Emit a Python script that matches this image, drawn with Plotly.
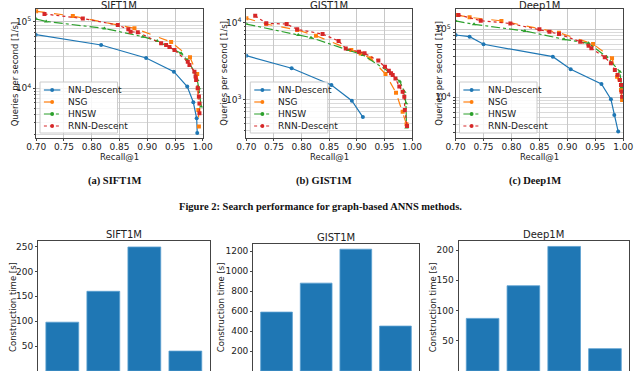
import plotly.graph_objects as go

W, H = 640, 371

methods = ["NN-Descent", "NSG", "HNSW", "RNN-Descent"]
colors = ["#1f77b4", "#ff7f0e", "#2ca02c", "#d62728"]
dashes = ["solid", "dash", "dashdot", "dot"]
symbols = ["circle", "square", "triangle-up", "square"]

# SIFT1M search performance (recall@1, queries per second)
sift_nnd_recall = [0.699, 0.817, 0.898, 0.948, 0.972, 0.983, 0.989, 0.990]
sift_nnd_qps = [64400, 45000, 28600, 17800, 10600, 6150, 3530, 2120]
sift_nsg_recall = [0.700, 0.766, 0.877, 0.943, 0.977, 0.990, 0.991, 0.992, 0.993]
sift_nsg_qps = [145000, 123000, 80400, 49900, 29300, 16400, 10000, 4700, 2640]
sift_hnsw_recall = [0.700, 0.718, 0.823, 0.892, 0.918, 0.961, 0.972, 0.985, 0.990, 0.993, 0.997]
sift_hnsw_qps = [111000, 102000, 80000, 60000, 51700, 33700, 26700, 17800, 13300, 10000, 5300]
sift_rnn_recall = [0.715, 0.784, 0.847, 0.866, 0.870, 0.883, 0.925, 0.934, 0.940, 0.949,
                   0.973, 0.976, 0.985, 0.987, 0.988, 0.991, 0.993, 0.994, 0.994]
sift_rnn_qps = [132000, 113000, 90000, 77400, 71400, 70000, 47600, 45000, 42000, 37800,
                25200, 22500, 17800, 15000, 13300, 10000, 7500, 5900, 4200]

# GIST1M search performance
gist_nnd_recall = [0.700, 0.782, 0.854, 0.891, 0.911]
gist_nnd_qps = [3740, 2570, 1560, 980, 600]
gist_nsg_recall = [0.700, 0.736, 0.792, 0.826, 0.890, 0.907, 0.925, 0.952, 0.971, 0.983, 0.990]
gist_nsg_qps = [11400, 9600, 8040, 6800, 4430, 4000, 3460, 2170, 1240, 706, 484]
gist_hnsw_recall = [0.700, 0.794, 0.817, 0.884, 0.911, 0.958, 0.978, 0.986, 0.989, 0.990]
gist_hnsw_qps = [9600, 6930, 6400, 4430, 3820, 2320, 1730, 1280, 905, 439]
gist_rnn_recall = [0.716, 0.736, 0.773, 0.792, 0.838, 0.867, 0.880, 0.904, 0.914, 0.939,
                   0.951, 0.958, 0.962, 0.965, 0.970, 0.977, 0.983, 0.986, 0.987, 0.991]
gist_rnn_qps = [12300, 9800, 9600, 8200, 7130, 5800, 4650, 4220, 4010, 3230,
                2700, 2390, 2210, 2100, 1900, 1490, 1280, 1100, 740, 460]

# Deep1M search performance
deep_nnd_recall = [0.700, 0.725, 0.750, 0.874, 0.906, 0.961, 0.978, 0.984, 0.991]
deep_nnd_qps = [82500, 78000, 60200, 39600, 25800, 15700, 9350, 5500, 3130]
deep_nsg_recall = [0.700, 0.725, 0.782, 0.885, 0.946, 0.980, 0.989, 0.996, 0.998]
deep_nsg_qps = [163000, 150000, 133000, 89300, 60800, 37500, 20100, 12800, 9130]
deep_hnsw_recall = [0.700, 0.733, 0.824, 0.894, 0.938, 0.970, 0.994, 0.997]
deep_hnsw_qps = [133000, 118500, 94500, 71300, 62200, 39600, 23800, 14000]
deep_rnn_recall = [0.705, 0.745, 0.798, 0.850, 0.868, 0.885, 0.923, 0.938, 0.943, 0.967,
                   0.978, 0.985, 0.990, 0.994, 0.996, 0.997, 0.998]
deep_rnn_qps = [163000, 134000, 122000, 100000, 92400, 85400, 65800, 57500, 52500, 38700,
                31600, 25300, 21300, 18000, 15200, 12100, 10200]

# construction time [s]
sift_build = [98, 160, 249, 40]
gist_build = [590, 880, 1220, 450]
deep_build = [87, 141, 206, 37]

datasets = ["SIFT1M", "GIST1M", "Deep1M"]
captions = ["(a) SIFT1M", "(b) GIST1M", "(c) Deep1M"]
search = [
    [(sift_nnd_recall, sift_nnd_qps), (sift_nsg_recall, sift_nsg_qps),
     (sift_hnsw_recall, sift_hnsw_qps), (sift_rnn_recall, sift_rnn_qps)],
    [(gist_nnd_recall, gist_nnd_qps), (gist_nsg_recall, gist_nsg_qps),
     (gist_hnsw_recall, gist_hnsw_qps), (gist_rnn_recall, gist_rnn_qps)],
    [(deep_nnd_recall, deep_nnd_qps), (deep_nsg_recall, deep_nsg_qps),
     (deep_hnsw_recall, deep_hnsw_qps), (deep_rnn_recall, deep_rnn_qps)],
]
builds = [sift_build, gist_build, deep_build]


def px(x):
    return x / W


def py(y):
    return 1 - y / H


FONT = "DejaVu Sans"
SERIF = "Liberation Serif"

# pixel boxes of the panels
top_boxes = [(27, 199), (244, 415), (460, 633)]
top_y = (9, 138)
log_ranges = [(3.250, 5.196), (2.508, 4.177), (3.401, 5.299)]
ytitle_x = [5, 220, 442]

bar_boxes = [(29, 206), (251, 422), (463, 639)]
bar_tops = [241, 244, 241]
bar_ranges = [(0, 261), (0, 1272), (0, 215)]
bar_dticks = [50, 200, 50]
bar_ytitle_x = [3, 218, 437]

fig = go.Figure()
layout = {}
annotations = []
shapes = []

decades = [10 ** e for e in range(2, 7)]
decade_text = [f"10<sup>{e}</sup>" for e in range(2, 7)]
minor_vals = [k * 10 ** e for e in range(2, 7) for k in range(2, 10)]

axis_common = dict(showline=True, mirror=True, linecolor="#444", linewidth=1,
                   ticks="outside", ticklen=2, tickcolor="#444",
                   tickfont=dict(family=FONT, size=9, color="#222"), zeroline=False)


def label(text, x, y, size=8.5, family=FONT, angle=0, xanchor="center", color="#222"):
    annotations.append(dict(text=text, x=px(x), y=py(y), xref="paper", yref="paper",
                            xanchor=xanchor, yanchor="middle", textangle=angle,
                            showarrow=False, font=dict(family=family, size=size, color=color)))


for i in range(3):
    n = i + 1
    xa = "xaxis" if n == 1 else f"xaxis{n}"
    ya = "yaxis" if n == 1 else f"yaxis{n}"
    xr = "x" if n == 1 else f"x{n}"
    yr = "y" if n == 1 else f"y{n}"
    x0, x1 = top_boxes[i]
    layout[xa] = dict(domain=[px(x0), px(x1)], anchor=yr, range=[0.70, 1.00],
                      tickvals=[0.70, 0.75, 0.80, 0.85, 0.90, 0.95, 1.00], tickformat=".2f",
                      ticklabelstandoff=-2,
                      showgrid=True, gridcolor="#c8c8c8", gridwidth=1, **axis_common)
    layout[ya] = dict(domain=[py(top_y[1]), py(top_y[0])], anchor=xr, type="log",
                      range=list(log_ranges[i]), tickvals=decades, ticktext=decade_text,
                      showgrid=True, gridcolor="#c8c8c8", gridwidth=1,
                      minor=dict(tickvals=minor_vals, showgrid=True, gridcolor="#dadada",
                                 ticks="outside", ticklen=1.5, tickcolor="#444"),
                      **axis_common)
    for j, m in enumerate(methods):
        rec, qps = search[i][j]
        fig.add_trace(go.Scatter(
            x=rec, y=qps, xaxis=xr, yaxis=yr, name=m, showlegend=False,
            mode="lines+markers",
            line=dict(color=colors[j], dash=dashes[j], width=1.2),
            marker=dict(symbol=symbols[j], size=4, color=colors[j]),
        ))
    cx = (x0 + x1) / 2
    label(datasets[i], cx, 5, size=10)
    label("Recall@1", cx, 157)
    label("Queries per second [1/s]", ytitle_x[i], (top_y[0] + top_y[1]) / 2, angle=-90)
    label("<b>" + captions[i] + "</b>", cx - 5, 181, size=10.5, family=SERIF, color="#111")

    # legend box in lower left
    lx = x0 + 4
    shapes.append(dict(type="rect", xref="paper", yref="paper", x0=px(lx), x1=px(lx + 80),
                       y0=py(133), y1=py(82), fillcolor="rgba(255,255,255,0.85)",
                       line=dict(color="#cccccc", width=1), layer="above"))
    for j, m in enumerate(methods):
        yy = 90 + j * 12
        shapes.append(dict(type="line", xref="paper", yref="paper", x0=px(lx + 4),
                           x1=px(lx + 21), y0=py(yy), y1=py(yy), layer="above",
                           line=dict(color=colors[j], dash=dashes[j], width=1.2)))
        shapes.append(dict(type="circle", xref="paper", yref="paper", x0=px(lx + 10.5),
                           x1=px(lx + 14.5), y0=py(yy + 2), y1=py(yy - 2), layer="above",
                           fillcolor=colors[j], line=dict(color=colors[j], width=0)))
        label(m, lx + 27, yy, size=9, xanchor="left")

label("<b>Figure 2: Search performance for graph-based ANNS methods.</b>", 320, 206,
      size=10.5, family=SERIF, color="#111")

for i in range(3):
    n = i + 4
    xa, ya, xr, yr = f"xaxis{n}", f"yaxis{n}", f"x{n}", f"y{n}"
    x0, x1 = bar_boxes[i]
    layout[xa] = dict(domain=[px(x0), px(x1)], anchor=yr, type="category",
                      range=[-0.59, 3.59], showticklabels=False, showline=True, mirror=True,
                      linecolor="#444", linewidth=1, ticks="", showgrid=False)
    layout[ya] = dict(domain=[0, py(bar_tops[i])], anchor=xr, range=list(bar_ranges[i]),
                      dtick=bar_dticks[i], showgrid=False, **axis_common)
    fig.add_trace(go.Bar(x=methods, y=builds[i], xaxis=xr, yaxis=yr, width=0.8,
                         marker=dict(color="#1f77b4", line=dict(color="#5a9fd0", width=0.8)),
                         showlegend=False))
    cx = (x0 + x1) / 2
    label(datasets[i], cx, bar_tops[i] - 7, size=10)
    label("Construction time [s]", bar_ytitle_x[i], 307, angle=-90)

fig.update_layout(
    width=W, height=H, margin=dict(l=0, r=0, t=0, b=0),
    paper_bgcolor="white", plot_bgcolor="white",
    annotations=annotations, shapes=shapes, **layout,
)

# drop the default page margin so the figure sits at the window's corner
fig.write_html("out.html", config={"displayModeBar": False},
               post_script="document.body.style.margin='0';")
